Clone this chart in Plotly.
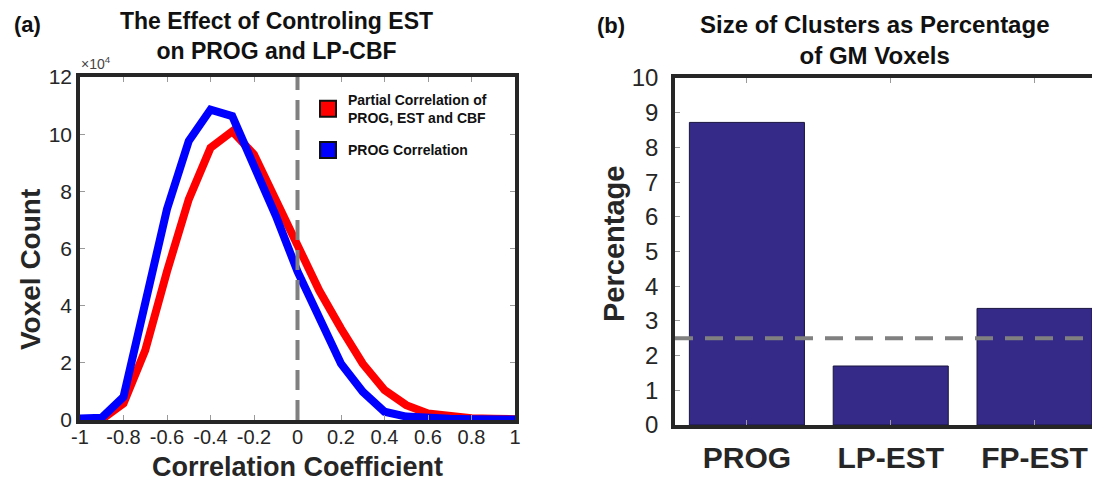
import plotly.graph_objects as go

# ---------------- data ----------------
corr_coef = [-1.0, -0.9, -0.8, -0.7, -0.6, -0.5, -0.4, -0.3, -0.2, -0.1, 0.0,
             0.1, 0.2, 0.3, 0.4, 0.5, 0.6, 0.7, 0.8, 0.9, 1.0]
partial_counts = [200, 200, 5800, 24400, 52000, 77200, 95200, 101000, 92900, 77500, 61600,
                  45300, 32000, 19700, 10500, 5200, 2300, 1200, 600, 400, 300]
prog_counts = [500, 800, 8100, 41000, 73800, 97600, 108600, 106300, 89300, 71500, 52000,
               35500, 19700, 9900, 2900, 1200, 600, 400, 300, 200, 200]
legend_partial = "<b>Partial Correlation of<br>PROG, EST and CBF</b>"
legend_prog = "<b>PROG Correlation</b>"

count_tickvals = [0, 20000, 40000, 60000, 80000, 100000, 120000]
count_ticktext = ["0", "2", "4", "6", "8", "10", "12"]
corr_tickvals = [-1, -0.8, -0.6, -0.4, -0.2, 0, 0.2, 0.4, 0.6, 0.8, 1]
corr_ticktext = ["-1", "-0.8", "-0.6", "-0.4", "-0.2", "0", "0.2", "0.4", "0.6", "0.8", "1"]
zero_corr = 0

clusters = ["PROG", "LP-EST", "FP-EST"]
cluster_pct = [8.72, 1.70, 3.36]
pct_tickvals = [0, 1, 2, 3, 4, 5, 6, 7, 8, 9, 10]
threshold_pct = 2.5

# ---------------- styles ----------------
FONT = "Liberation Sans, Arial, Helvetica, sans-serif"
OFF = 8                      # page body margin of the html page
W, H = 1100 - OFF, 485 - OFF
AX = "#262626"
TICK = "#9a9a9a"


def px_x(p):
    return (p - OFF) / W


def px_y(p):
    return 1 - (p - OFF) / H


fig = go.Figure()

fig.add_trace(go.Scatter(x=corr_coef, y=partial_counts, mode="lines",
                         line=dict(color="#ff0000", width=8),
                         showlegend=False, xaxis="x", yaxis="y"))
fig.add_trace(go.Scatter(x=corr_coef, y=prog_counts, mode="lines",
                         line=dict(color="#0000ff", width=8),
                         showlegend=False, xaxis="x", yaxis="y"))
# legend entries (square swatches)
fig.add_trace(go.Scatter(x=[None], y=[None], mode="markers", name=legend_partial,
                         legendgroup="a",
                         marker=dict(symbol="square", size=16, color="#ff0000",
                                     line=dict(color="#111111", width=2)),
                         xaxis="x", yaxis="y"))
fig.add_trace(go.Scatter(x=[None], y=[None], mode="markers", name=legend_prog,
                         legendgroup="b",
                         marker=dict(symbol="square", size=16, color="#0000ff",
                                     line=dict(color="#111111", width=2)),
                         xaxis="x", yaxis="y"))

fig.add_trace(go.Bar(x=clusters, y=cluster_pct, width=0.8,
                     marker=dict(color="#352A87", line=dict(color="#1a1540", width=1)),
                     showlegend=False, xaxis="x2", yaxis="y2"))

# reference lines
fig.add_shape(type="line", xref="x", yref="y domain", x0=zero_corr, x1=zero_corr,
              y0=0, y1=1, line=dict(color="#808080", width=4, dash="20px,10px"))
fig.add_shape(type="line", xref="x2 domain", yref="y2", x0=0, x1=1,
              y0=threshold_pct, y1=threshold_pct,
              line=dict(color="#808080", width=4, dash="18px,12px"))

axis_base = dict(showline=True, linecolor=AX, linewidth=3.5, ticks="inside",
                 ticklen=5, tickwidth=1, tickcolor=TICK, showgrid=False,
                 zeroline=False)

fig.update_layout(
    width=W, height=H,
    margin=dict(l=0, r=0, t=0, b=0, autoexpand=False),
    paper_bgcolor="white", plot_bgcolor="white",
    font=dict(family=FONT, color=AX),
    showlegend=True,
    legend=dict(x=px_x(308), y=px_y(84), xanchor="left", yanchor="top",
                bgcolor="rgba(0,0,0,0)", font=dict(family=FONT, size=14, color="#111111"),
                tracegroupgap=11, itemsizing="trace"),
    xaxis=dict(domain=[px_x(80), px_x(515)], range=[-1, 1], anchor="y",
               tickvals=corr_tickvals, ticktext=corr_ticktext, mirror="ticks",
               title=dict(text="<b>Correlation Coefficient</b>",
                          font=dict(family=FONT, size=27, color=AX), standoff=11),
               tickfont=dict(family=FONT, size=20, color=AX),
               ticklabelstandoff=-4, **axis_base),
    yaxis=dict(domain=[px_y(420), px_y(77)], range=[0, 120000], anchor="x",
               tickvals=count_tickvals, ticktext=count_ticktext, mirror="ticks",
               tickfont=dict(family=FONT, size=21, color=AX), **axis_base),
    xaxis2=dict(domain=[px_x(675), 1.0], range=[-0.5, 2.455], type="category",
                mirror="ticks", anchor="y2",
                tickfont=dict(family=FONT, size=30, color=AX, weight="bold"),
                ticklabelstandoff=3, **axis_base),
    yaxis2=dict(domain=[px_y(425), px_y(78)], range=[0, 10], anchor="x2",
                tickvals=pct_tickvals, mirror=False,
                tickfont=dict(family=FONT, size=24, color=AX),
                ticklabelstandoff=8, **axis_base),
)

ann = [
    dict(text="<b>(a)</b>", x=px_x(12), y=px_y(24), xanchor="left", yanchor="middle",
         font=dict(family=FONT, size=22, color="#111111")),
    dict(text="<b>The Effect of Controling EST<br>on PROG and LP-CBF</b>",
         x=px_x(276), y=px_y(36), xanchor="center", yanchor="middle",
         font=dict(family=FONT, size=23, color="#111111")),
    dict(text="<b>(b)</b>", x=px_x(595), y=px_y(26), xanchor="left", yanchor="middle",
         font=dict(family=FONT, size=22, color="#111111")),
    dict(text="<b>Size of Clusters as Percentage<br>of GM Voxels</b>",
         x=px_x(874), y=px_y(40), xanchor="center", yanchor="middle",
         font=dict(family=FONT, size=24, color="#111111")),
    dict(text="×10<sup>4</sup>", x=px_x(79), y=px_y(63), xanchor="left", yanchor="middle",
         font=dict(family=FONT, size=14, color="#444444")),
    dict(text="<b>Voxel Count</b>", x=px_x(30), y=px_y(270), xanchor="center",
         yanchor="middle", textangle=-90,
         font=dict(family=FONT, size=28, color=AX)),
    dict(text="<b>Percentage</b>", x=px_x(614), y=px_y(244), xanchor="center",
         yanchor="middle", textangle=-90,
         font=dict(family=FONT, size=29, color=AX)),
]
for a in ann:
    a.update(xref="paper", yref="paper", showarrow=False)
fig.update_layout(annotations=ann)

fig.write_html("out.html")
